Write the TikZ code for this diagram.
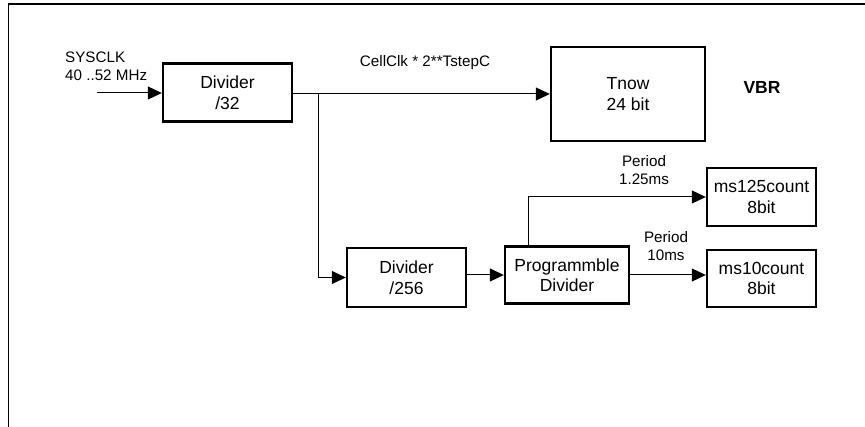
\documentclass[tikz,border=0pt]{standalone}
\usepackage{fontspec}
\setmainfont{Liberation Sans}
\usetikzlibrary{arrows.meta}
\begin{document}
\begin{tikzpicture}[x=1pt,y=-1pt,
  blk/.style={draw,line width=2.4pt,rectangle,inner sep=0pt,align=center,
    font=\fontsize{17.5}{20.5}\selectfont},
  lbl/.style={align=center,inner sep=0pt,font=\fontsize{15.2}{17.8}\selectfont},
  wire/.style={line width=1pt,-{Triangle[length=14pt,width=13pt]}}]
\useasboundingbox (0,0) rectangle (865,427);
% open frame: top and left edges
\draw[line width=1.8pt] (8.5,427) -- (8.5,4.2) -- (865,4.2);

% blocks
\node[blk,minimum width=129pt,minimum height=58pt] (div32) at (227.5,92.5) {Divider\\/32};
\node[blk,minimum width=154pt,minimum height=94pt] (tnow) at (628,94) {Tnow\\24 bit};
\node[blk,minimum width=119pt,minimum height=59pt] (div256) at (406.5,277.5) {Divider\\/256};
\node[blk,minimum width=124pt,minimum height=57pt] (prog) at (567,275) {Programmble\\Divider};
\node[blk,minimum width=109pt,minimum height=58pt] (ms125) at (761.5,197) {ms125count\\8bit};
\node[blk,minimum width=109pt,minimum height=57pt] (ms10) at (761.5,278.5) {ms10count\\8bit};

% labels
\node[lbl,anchor=west,align=left] (sysclk) at (65,66) {SYSCLK\\40 ..52 MHz};
\node[lbl] (cellclk) at (425,63) {CellClk * 2**TstepC};
\node[font=\fontsize{17.5}{20.5}\selectfont\bfseries,inner sep=0pt] (vbr) at (762,87) {VBR};
\node[lbl] (p125) at (644,170) {Period\\1.25ms};
\node[lbl] (p10) at (666,246) {Period\\10ms};

% connectors
\coordinate (clkin) at (97,93);
\coordinate (br) at (318,93);
\draw[wire] (clkin) -- (clkin -| div32.west);
\draw[wire] (div32.east |- tnow.west) -- (tnow.west);
\draw[wire] (br) |- (div256.west);
\draw[wire] (div256.east |- prog.west) -- (prog.west);
\draw[wire] ([xshift=-39pt]prog.north) |- (ms125.west);
\draw[wire] (prog.east) -- (prog.east -| ms10.west);
\end{tikzpicture}
\end{document}
